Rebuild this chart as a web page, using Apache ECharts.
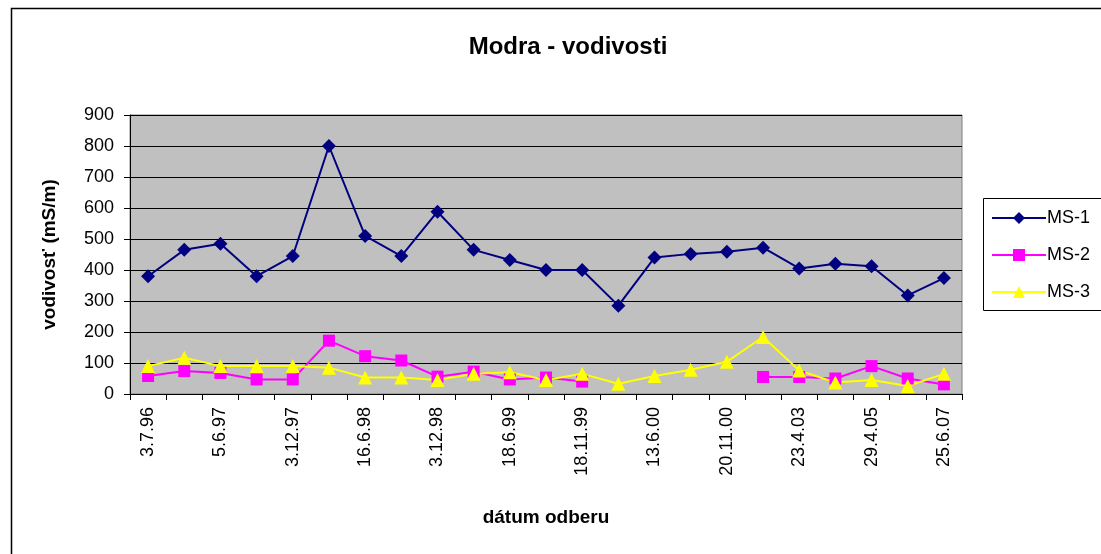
<!DOCTYPE html>
<html>
<head>
<meta charset="utf-8">
<script src="https://cdn.jsdelivr.net/npm/echarts@6/dist/echarts.min.js"></script>
<style>
  html, body { margin: 0; padding: 0; background: #fff; }
  #chart { width: 1101px; height: 554px; }
</style>
</head>
<body>
<div id="chart"></div>
<script>
// categories: only every other date is labelled in the original, the rest stay blank
var dates = ['3.7.96', '', '5.6.97', '', '3.12.97', '', '16.6.98', '', '3.12.98', '', '18.6.99', '',
    '18.11.99', '', '13.6.00', '', '20.11.00', '', '23.4.03', '', '29.4.05', '', '25.6.07'];

var ms1 = [380, 465, 485, 380, 445, 800, 510, 445, 588, 465, 432, 400,
    400, 285, 440, 452, 459, 472, 405, 420, 412, 318, 374];
var ms2 = [58, 74, 68, 47, 47, 172, 122, 108, 56, 72, 47, 53,
    40, null, null, null, null, 55, 55, 50, 90, 50, 31];
var ms3 = [90, 117, 90, 90, 90, 85, 53, 53, 45, 65, 70, 45,
    65, 33, 58, 78, 104, 184, 76, 37, 45, 26, 65];

var font = 'Liberation Sans, Arial, sans-serif';

var chart = echarts.init(document.getElementById('chart'));

var option = {
    animation: false,
    backgroundColor: '#fff',
    textStyle: { fontFamily: font },
    title: {
        text: 'Modra - vodivosti',
        left: 563,
        top: 30,
        textAlign: 'center',
        textStyle: { fontFamily: font, fontSize: 24, fontWeight: 'bold', color: '#000' }
    },
    graphic: [
        {   // outer chart frame
            type: 'rect',
            shape: { x: 11.5, y: 8.5, width: 1200, height: 700 },
            style: { fill: 'none', stroke: '#000', lineWidth: 1.5 },
            silent: true, z: 0
        },
        {   // legend frame
            type: 'rect',
            shape: { x: 983.5, y: 198.5, width: 200, height: 112 },
            style: { fill: '#fff', stroke: '#000', lineWidth: 1 },
            silent: true, z: 1
        }
    ],
    legend: {
        orient: 'vertical',
        left: 991,
        top: 209,
        itemWidth: 54,
        itemHeight: 15,
        itemGap: 19,
        padding: 0,
        z: 5,
        textStyle: { fontFamily: font, fontSize: 18, color: '#000', padding: [0, 0, 0, -4] },
        data: ['MS-1', 'MS-2', 'MS-3']
    },
    grid: {
        left: 130,
        right: 139,
        top: 115,
        bottom: 160,
        show: true,
        backgroundColor: '#c0c0c0',
        borderColor: '#808080',
        borderWidth: 1
    },
    xAxis: {
        type: 'category',
        data: dates,
        boundaryGap: true,
        name: 'dátum odberu',
        nameLocation: 'middle',
        nameGap: 114,
        nameTextStyle: { fontFamily: font, fontSize: 19, fontWeight: 'bold', color: '#000' },
        axisLine: { lineStyle: { color: '#000', width: 1 } },
        axisTick: { show: true, interval: 0, length: 6, lineStyle: { color: '#000' } },
        axisLabel: {
            interval: 1,
            rotate: 90,
            margin: 13,
            fontFamily: font,
            fontSize: 18,
            color: '#000'
        },
        splitLine: { show: false }
    },
    yAxis: {
        type: 'value',
        min: 0,
        max: 900,
        interval: 100,
        name: 'vodivosť (mS/m)',
        nameLocation: 'middle',
        nameGap: 71,
        nameTextStyle: { fontFamily: font, fontSize: 19, fontWeight: 'bold', color: '#000' },
        axisLine: { show: true, lineStyle: { color: '#000', width: 1 } },
        axisTick: { show: true, length: 6, lineStyle: { color: '#000' } },
        axisLabel: { fontFamily: font, fontSize: 18, color: '#000', margin: 16 },
        splitLine: { show: true, lineStyle: { color: '#000', width: 1 } }
    },
    series: [
        {
            name: 'MS-1',
            type: 'line',
            data: ms1,
            symbol: 'diamond',
            symbolSize: 14,
            color: '#000080',
            lineStyle: { width: 2, color: '#000080' },
            itemStyle: { color: '#000080' },
            z: 4
        },
        {
            name: 'MS-2',
            type: 'line',
            data: ms2,
            connectNulls: false,
            symbol: 'rect',
            symbolSize: 12,
            color: '#ff00ff',
            lineStyle: { width: 2, color: '#ff00ff' },
            itemStyle: { color: '#ff00ff' },
            z: 3
        },
        {
            name: 'MS-3',
            type: 'line',
            data: ms3,
            symbol: 'triangle',
            symbolSize: 14,
            color: '#ffff00',
            lineStyle: { width: 2, color: '#ffff00' },
            itemStyle: { color: '#ffff00' },
            z: 3
        }
    ]
};

chart.setOption(option);
</script>
</body>
</html>
